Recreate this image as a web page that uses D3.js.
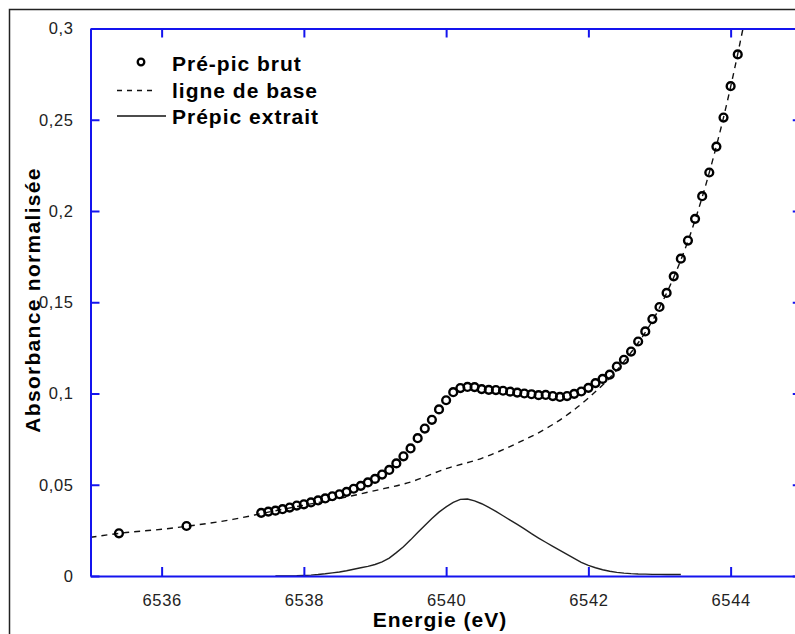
<!DOCTYPE html>
<html>
<head>
<meta charset="utf-8">
<script src="https://cdn.jsdelivr.net/npm/d3@7/dist/d3.min.js"></script>
<style>
  html, body { margin: 0; padding: 0; background: #fff; }
  svg { display: block; }
</style>
</head>
<body>
<svg id="chart" width="795" height="634"></svg>
<script>
// ---------- DATA ----------
const rawEnergy = [6535.4, 6536.35,
  6537.4, 6537.5, 6537.6, 6537.7, 6537.8, 6537.9, 6538.0, 6538.1, 6538.2, 6538.3,
  6538.4, 6538.5, 6538.6, 6538.7, 6538.8, 6538.9, 6539.0, 6539.1, 6539.2, 6539.3,
  6539.4, 6539.5, 6539.6, 6539.7, 6539.8, 6539.9, 6540.0, 6540.1, 6540.2, 6540.3,
  6540.4, 6540.5, 6540.6, 6540.7, 6540.8, 6540.9, 6541.0, 6541.1, 6541.2, 6541.3,
  6541.4, 6541.5, 6541.6, 6541.7, 6541.8, 6541.9, 6542.0, 6542.1, 6542.2, 6542.3,
  6542.4, 6542.5, 6542.6, 6542.7, 6542.8, 6542.9, 6543.0, 6543.1, 6543.2, 6543.3,
  6543.4, 6543.5, 6543.6, 6543.7, 6543.8, 6543.9, 6544.0, 6544.1];
const rawAbs = [0.0234, 0.0274,
  0.0346, 0.0353, 0.0358, 0.0366, 0.0375, 0.0386, 0.0393, 0.0403, 0.0414, 0.0425,
  0.0437, 0.0448, 0.0461, 0.0478, 0.0494, 0.0513, 0.0532, 0.0556, 0.0581, 0.0617,
  0.0656, 0.0699, 0.0755, 0.0808, 0.0856, 0.0913, 0.0963, 0.1007, 0.1030, 0.1036,
  0.1035, 0.1024, 0.1020, 0.1019, 0.1015, 0.1010, 0.1005, 0.1000, 0.0996, 0.0991,
  0.0992, 0.0986, 0.0981, 0.0986, 0.0998, 0.1011, 0.1031, 0.1057, 0.1080, 0.1103,
  0.1148, 0.1185, 0.1230, 0.1285, 0.1340, 0.1408, 0.1474, 0.1551, 0.1642, 0.1739,
  0.1838, 0.1957, 0.2081, 0.2211, 0.2353, 0.2512, 0.2684, 0.2858];

const baseEnergy = [6535.0, 6535.5, 6536.0, 6536.5, 6537.0, 6537.5, 6538.0, 6538.5, 6539.0, 6539.5,
  6540.0, 6540.5, 6541.0, 6541.5, 6542.0, 6542.5, 6543.0, 6543.5, 6544.0, 6544.2];
const baseAbs = [0.0212, 0.0238, 0.0256, 0.0280, 0.0310, 0.0350, 0.0388, 0.0425, 0.0468, 0.0515,
  0.0588, 0.0645, 0.0728, 0.0830, 0.0975, 0.1175, 0.1470, 0.1950, 0.2680, 0.3050];

const peakEnergy = [6537.6, 6537.7, 6537.8, 6537.9, 6538.0, 6538.1, 6538.2, 6538.3, 6538.4, 6538.5,
  6538.6, 6538.7, 6538.8, 6538.9, 6539.0, 6539.1, 6539.2, 6539.3, 6539.4, 6539.5,
  6539.6, 6539.7, 6539.8, 6539.9, 6540.0, 6540.1, 6540.2, 6540.3, 6540.4, 6540.5,
  6540.6, 6540.7, 6540.8, 6540.9, 6541.0, 6541.1, 6541.2, 6541.3, 6541.4, 6541.5,
  6541.6, 6541.7, 6541.8, 6541.9, 6542.0, 6542.1, 6542.2, 6542.3, 6542.4, 6542.5,
  6542.6, 6542.7, 6542.8, 6542.9, 6543.0, 6543.1, 6543.2, 6543.3];
const peakAbs = [0, 0, 0, 0.0001, 0.0003, 0.0005, 0.0008, 0.0012, 0.0017, 0.0022,
  0.0029, 0.0037, 0.0045, 0.0053, 0.0063, 0.0077, 0.0098, 0.0128, 0.0160, 0.0198,
  0.0238, 0.0277, 0.0315, 0.0350, 0.0379, 0.0403, 0.0420, 0.0422, 0.0412, 0.0396,
  0.0376, 0.0354, 0.0330, 0.0306, 0.0283, 0.0258, 0.0232, 0.0208, 0.0185, 0.0162,
  0.0140, 0.0118, 0.0096, 0.0075, 0.0058, 0.0045, 0.0034, 0.0026, 0.0020, 0.0016,
  0.0013, 0.0011, 0.0010, 0.0009, 0.0009, 0.0008, 0.0008, 0.0008];

const xTicks = [6536, 6538, 6540, 6542, 6544];
const yTicks = [0, 0.05, 0.1, 0.15, 0.2, 0.25, 0.3];
const yTickLabels = ["0", "0,05", "0,1", "0,15", "0,2", "0,25", "0,3"];
const legendLabels = ["Pré-pic brut", "ligne de base", "Prépic extrait"];
const xTitle = "Energie (eV)";
const yTitle = "Absorbance normalisée";

// ---------- CHART ----------
const svg = d3.select("#chart");
const AXIS = "#1414ee";
const FONT = "'Liberation Sans', Arial, sans-serif";

// outer frame
svg.append("rect").attr("x", 9.5).attr("y", 9.5).attr("width", 820).attr("height", 660)
  .attr("fill", "none").attr("stroke", "#222").attr("stroke-width", 1.5);

const x = d3.scaleLinear().domain([6535, 6545]).range([90.5, 801.75]);
const y = d3.scaleLinear().domain([0, 0.3]).range([576, 28.5]);

svg.append("clipPath").attr("id", "plotclip").append("rect")
  .attr("x", x(6535)).attr("y", y(0.3)).attr("width", x(6545) - x(6535)).attr("height", y(0) - y(0.3));

const plot = svg.append("g").attr("clip-path", "url(#plotclip)");

// baseline (dashed)
const baseData = baseEnergy.map((e, i) => [e, baseAbs[i]]);
plot.append("path").datum(baseData)
  .attr("d", d3.line().x(d => x(d[0])).y(d => y(d[1])).curve(d3.curveMonotoneX))
  .attr("fill", "none").attr("stroke", "#111").attr("stroke-width", 1.4)
  .attr("stroke-dasharray", "6,5");

// extracted pre-peak (solid)
const peakData = peakEnergy.map((e, i) => [e, peakAbs[i]]);
svg.append("path").datum(peakData)
  .attr("d", d3.line().x(d => x(d[0])).y(d => y(d[1])))
  .attr("fill", "none").attr("stroke", "#222").attr("stroke-width", 1.4);

// axes
function styleAxis(g) {
  g.select(".domain").attr("stroke", AXIS).attr("stroke-width", 2);
  g.selectAll(".tick line").attr("stroke", AXIS).attr("stroke-width", 2);
  g.selectAll(".tick text").attr("fill", "#222").attr("font-family", FONT)
    .attr("font-size", 16.5).attr("letter-spacing", "0.6px");
}
svg.append("g").attr("transform", `translate(0,${y(0)})`)
  .call(d3.axisBottom(x).tickValues(xTicks).tickSize(-9).tickSizeOuter(0).tickPadding(18).tickFormat(d3.format("d")))
  .call(styleAxis);
svg.append("g").attr("transform", `translate(0,${y(0.3)})`)
  .call(d3.axisTop(x).tickValues(xTicks).tickSize(-9).tickSizeOuter(0).tickFormat(""))
  .call(styleAxis);
svg.append("g").attr("transform", `translate(${x(6535)},0)`)
  .call(d3.axisLeft(y).tickValues(yTicks).tickSize(-9).tickSizeOuter(0).tickPadding(17)
    .tickFormat((d, i) => yTickLabels[i]))
  .call(styleAxis);
svg.append("g").attr("transform", `translate(${x(6545)},0)`)
  .call(d3.axisRight(y).tickValues(yTicks).tickSize(-9).tickSizeOuter(0).tickFormat(""))
  .call(styleAxis);

// raw points
const rawData = rawEnergy.map((e, i) => [e, rawAbs[i]]);
svg.append("g").selectAll("circle").data(rawData).join("circle")
  .attr("cx", d => x(d[0])).attr("cy", d => y(d[1])).attr("r", 3.9)
  .attr("fill", "none").attr("stroke", "#000").attr("stroke-width", 2.4);

// titles
svg.append("text").attr("x", 440).attr("y", 627).attr("text-anchor", "middle")
  .attr("font-family", FONT).attr("font-weight", "bold").attr("font-size", 21)
  .attr("letter-spacing", "1px").attr("fill", "#000").text(xTitle);
svg.append("text").attr("transform", "translate(40,300) rotate(-90)").attr("text-anchor", "middle")
  .attr("font-family", FONT).attr("font-weight", "bold").attr("font-size", 21)
  .attr("letter-spacing", "1.3px").attr("fill", "#000").text(yTitle);

// legend
const lg = svg.append("g");
lg.append("circle").attr("cx", 141).attr("cy", 62).attr("r", 3.3)
  .attr("fill", "none").attr("stroke", "#000").attr("stroke-width", 2.3);
lg.append("line").attr("x1", 117).attr("x2", 154).attr("y1", 90.5).attr("y2", 90.5)
  .attr("stroke", "#111").attr("stroke-width", 1.4).attr("stroke-dasharray", "5,5");
lg.append("line").attr("x1", 117).attr("x2", 166).attr("y1", 116).attr("y2", 116)
  .attr("stroke", "#111").attr("stroke-width", 1.5);
const legY = [70.5, 97.5, 123.5];
lg.selectAll("text.leg").data(legendLabels).join("text").attr("class", "leg")
  .attr("x", 172).attr("y", (d, i) => legY[i])
  .attr("font-family", FONT).attr("font-weight", "bold").attr("font-size", 21)
  .attr("letter-spacing", "1px").attr("fill", "#000").text(d => d);
</script>
</body>
</html>
